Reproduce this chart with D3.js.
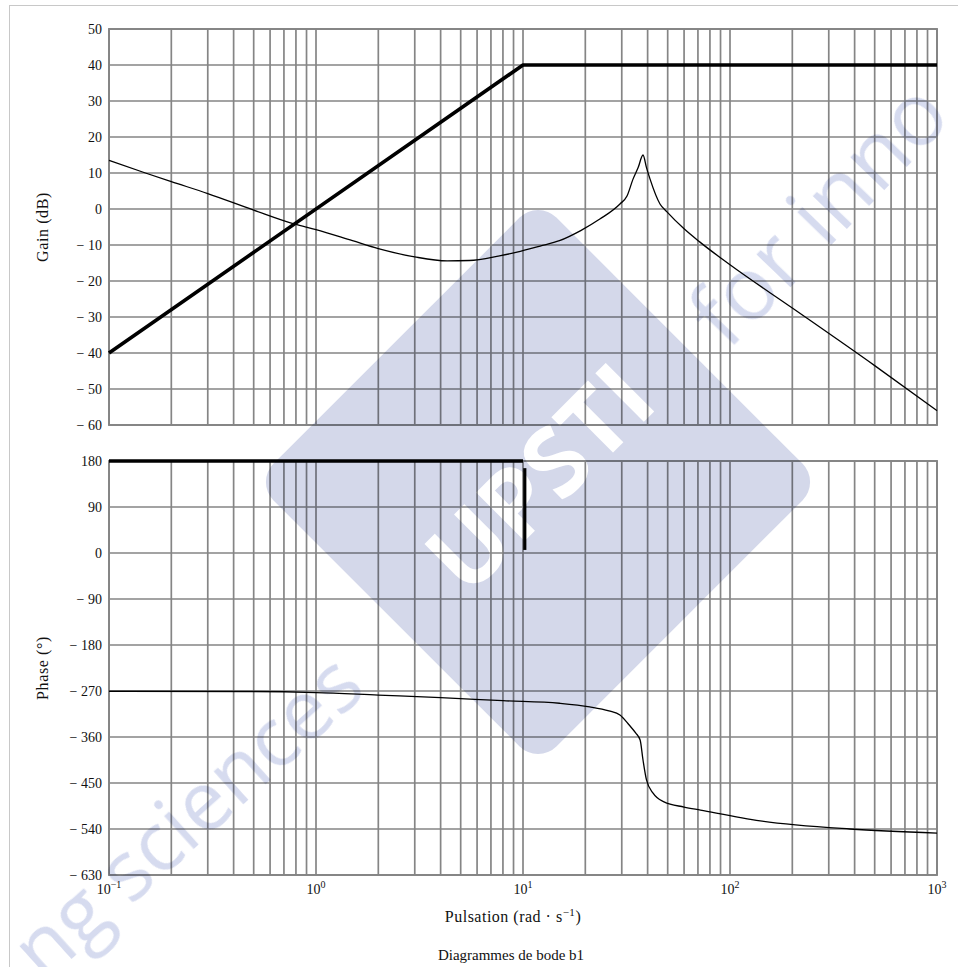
<!DOCTYPE html>
<html>
<head>
<meta charset="utf-8">
<script src="https://cdn.jsdelivr.net/npm/d3@7"></script>
<style>
  body { margin: 0; background: #fff; }
  svg text { font-family: "Liberation Serif", "DejaVu Serif", serif; }
</style>
</head>
<body>
<div id="bode"></div>
<script>
// Gain curve
const gainW  = [0.1, 0.15, 0.2, 0.3, 0.5, 0.79, 1, 1.5, 2, 3, 4.3, 5.5, 7.7, 9.35, 12.1, 15, 19, 23.5, 29.4, 31.8, 34, 36, 38, 39.5, 41.1, 45.9, 49.6, 60, 71.6, 100, 200, 500, 1000];
const gainDb = [13.5, 10, 7.6, 4.3, -0.3, -4.2, -5.7, -8.8, -11, -13.3, -14.4, -14.3, -13, -12, -10.3, -8.8, -6, -2.8, 1.4, 3.6, 8.3, 11.5, 15, 11.5, 8.3, 1.4, -0.8, -5.5, -9.2, -15.5, -27.5, -43.5, -56];

// Gain asymptote
const gainAsymW  = [0.1, 10, 1000];
const gainAsymDb = [-40, 40, 40];

// Phase curve
const phaseW   = [0.1, 0.5, 1, 2, 4, 8, 15, 21, 26, 29.4, 32.5, 35, 36.8, 38, 39.5, 42.5, 48, 60, 72, 140, 380, 1000];
const phaseDeg = [-270.5, -271, -273, -278, -283, -289, -294, -301, -309, -317, -336, -352, -366, -405, -444, -470, -487, -497, -503, -524, -540, -548];

// Phase asymptote: flat part and the vertical drop
const phaseAsymW   = [0.1, 10];
const phaseAsymDeg = [180, 180];
const phaseDropW   = [10.2, 10.2];
const phaseDropDeg = [166, 6];

// Ticks
const gainTicks  = [-60, -50, -40, -30, -20, -10, 0, 10, 20, 30, 40, 50];
const phaseTicks = [-630, -540, -450, -360, -270, -180, -90, 0, 90, 180];
const decadeExp  = [-1, 0, 1, 2, 3];

const W = 958, H = 967;
const left = 109, right = 937;

const svg = d3.select("#bode").append("svg")
    .attr("width", W)
    .attr("height", H);

// page frame
svg.append("rect")
    .attr("x", 9.5).attr("y", 5.5)
    .attr("width", W).attr("height", H)
    .attr("fill", "#fff")
    .attr("stroke", "#c8c8c8");

const x = d3.scaleLog().domain([0.1, 1000]).range([left, right]);
const yGain  = d3.scaleLinear().domain([-60, 50]).range([425, 29]);
const yPhase = d3.scaleLinear().domain([-630, 180]).range([875, 461]);

const fmt = v => v < 0 ? "\u2212 " + Math.abs(v) : String(v);

function panel(y, ticks) {
    const g = svg.append("g");
    const [y0, y1] = y.range();

    // vertical grid, log decades with minor lines
    g.selectAll(".vgrid")
        .data(x.ticks())
        .enter().append("line")
        .attr("x1", d => x(d)).attr("x2", d => x(d))
        .attr("y1", y1).attr("y2", y0)
        .attr("stroke", "#858585")
        .attr("stroke-width", 1.7);

    // horizontal grid
    g.selectAll(".hgrid")
        .data(ticks)
        .enter().append("line")
        .attr("x1", left).attr("x2", right)
        .attr("y1", d => y(d)).attr("y2", d => y(d))
        .attr("stroke", "#858585")
        .attr("stroke-width", 1.7);

    g.append("rect")
        .attr("x", left).attr("y", y1)
        .attr("width", right - left).attr("height", y0 - y1)
        .attr("fill", "none")
        .attr("stroke", "#858585")
        .attr("stroke-width", 1.9);

    // y axis labels
    const ax = g.append("g")
        .attr("transform", `translate(${left},0)`)
        .call(d3.axisLeft(y).tickValues(ticks).tickSize(0).tickPadding(7).tickFormat(fmt));
    ax.select(".domain").remove();
    ax.selectAll("text")
        .style("font-family", '"Liberation Serif", "DejaVu Serif", serif')
        .style("font-size", "14px")
        .style("fill", "#111");
    return g;
}

panel(yGain, gainTicks);
panel(yPhase, phaseTicks);

// curves
function drawLine(xs, ys, y, width, curve) {
    const pts = xs.map((w, i) => [w, ys[i]]);
    svg.append("path")
        .datum(pts)
        .attr("fill", "none")
        .attr("stroke", "#000")
        .attr("stroke-width", width)
        .attr("stroke-linejoin", "round")
        .attr("d", d3.line().x(d => x(d[0])).y(d => y(d[1])).curve(curve || d3.curveLinear));
}

drawLine(gainAsymW, gainAsymDb, yGain, 3.6);
drawLine(gainW, gainDb, yGain, 1.3, d3.curveMonotoneX);
drawLine(phaseAsymW, phaseAsymDeg, yPhase, 3.6);
drawLine(phaseDropW, phaseDropDeg, yPhase, 3.2);
drawLine(phaseW, phaseDeg, yPhase, 1.3, d3.curveMonotoneX);

// x tick labels 10^k
decadeExp.forEach(k => {
    const t = svg.append("text")
        .attr("x", x(Math.pow(10, k)))
        .attr("y", 894)
        .attr("text-anchor", "middle")
        .style("font-size", "14px")
        .style("fill", "#111");
    t.append("tspan").text("10");
    t.append("tspan").attr("dy", -6).style("font-size", "10px").text(k < 0 ? "\u2212" + Math.abs(k) : String(k));
});

// axis titles
svg.append("text")
    .attr("transform", `translate(48,${(29 + 425) / 2}) rotate(-90)`)
    .attr("text-anchor", "middle")
    .style("font-size", "16px")
    .style("letter-spacing", "0.6px")
    .style("fill", "#111")
    .text("Gain (dB)");

svg.append("text")
    .attr("transform", `translate(48,${(461 + 875) / 2}) rotate(-90)`)
    .attr("text-anchor", "middle")
    .style("font-size", "16px")
    .style("letter-spacing", "0.6px")
    .style("fill", "#111")
    .text("Phase (\u00b0)");

const xt = svg.append("text")
    .attr("x", 513).attr("y", 922)
    .attr("text-anchor", "middle")
    .style("font-size", "16px")
    .style("letter-spacing", "0.5px")
    .style("fill", "#111");
xt.append("tspan").text("Pulsation (rad \u00b7 s");
xt.append("tspan").attr("dy", -6).style("font-size", "11px").text("\u22121");
xt.append("tspan").attr("dy", 6).text(")");

svg.append("text")
    .attr("x", 511).attr("y", 960)
    .attr("text-anchor", "middle")
    .style("font-size", "15px")
    .style("fill", "#111")
    .text("Diagrammes de bode b1");

// watermark overlay
const wm = svg.append("g").style("mix-blend-mode", "multiply");

wm.append("text")
    .attr("transform", "translate(368,692) rotate(-42)")
    .attr("text-anchor", "end")
    .style("font-family", '"Open Sans", "Noto Sans", sans-serif')
    .style("font-size", "82px")
    .style("fill", "#d6dbef")
    .text("ng sciences");

wm.append("text")
    .attr("transform", "translate(728,352) rotate(-46)")
    .attr("text-anchor", "start")
    .style("font-family", '"Open Sans", "Noto Sans", sans-serif')
    .style("font-size", "88px")
    .style("fill", "#d6dbef")
    .text("for inno");

wm.append("rect")
    .attr("x", -200).attr("y", -200)
    .attr("width", 400).attr("height", 400)
    .attr("rx", 26)
    .attr("transform", "translate(538,482) rotate(45)")
    .attr("fill", "#d4d8ea");

wm.append("text")
    .attr("transform", "translate(540,478) rotate(-45)")
    .attr("text-anchor", "middle")
    .attr("dy", "0.35em")
    .style("font-family", '"Open Sans", "Noto Sans", sans-serif')
    .style("font-weight", "bold")
    .style("font-size", "96px")
    .style("fill", "#fff")
    .text("UPSTI");
</script>
</body>
</html>
